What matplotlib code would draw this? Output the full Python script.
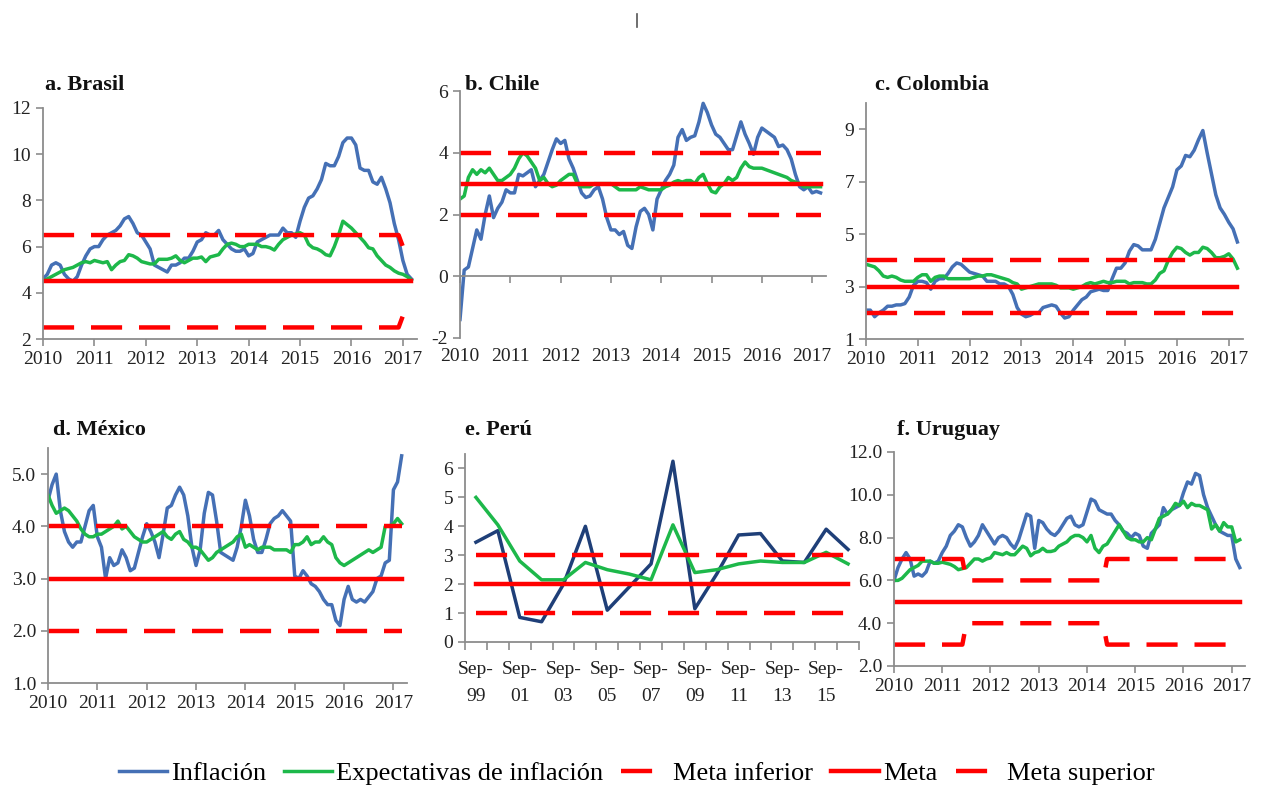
import matplotlib.pyplot as plt
import numpy as np
from matplotlib.lines import Line2D

plt.rcParams['font.family'] = ['Liberation Serif', 'DejaVu Serif']
plt.rcParams['axes.unicode_minus'] = False

# monthly data, Jan 2010 - Mar 2017
years = ['2010', '2011', '2012', '2013', '2014', '2015', '2016', '2017']

bra_inf = [4.6, 4.8, 5.2, 5.3, 5.2, 4.8, 4.6, 4.5, 4.7, 5.2, 5.6, 5.9,
           6.0, 6.0, 6.3, 6.5, 6.6, 6.7, 6.9, 7.2, 7.3, 7.0, 6.6, 6.5,
           6.2, 5.9, 5.2, 5.1, 5.0, 4.9, 5.2, 5.2, 5.3, 5.5, 5.5, 5.8,
           6.2, 6.3, 6.6, 6.5, 6.5, 6.7, 6.3, 6.1, 5.9, 5.8, 5.8, 5.9,
           5.6, 5.7, 6.2, 6.3, 6.4, 6.5, 6.5, 6.5, 6.8, 6.6, 6.6, 6.4,
           7.1, 7.7, 8.1, 8.2, 8.5, 8.9, 9.6, 9.5, 9.5, 9.9, 10.5, 10.7,
           10.7, 10.4, 9.4, 9.3, 9.3, 8.8, 8.7, 9.0, 8.5, 7.9, 7.0, 6.3,
           5.4, 4.8, 4.6]
bra_exp = [4.5, 4.6, 4.7, 4.8, 4.9, 5.0, 5.05, 5.1, 5.2, 5.3, 5.35, 5.3,
           5.4, 5.35, 5.3, 5.35, 5.0, 5.2, 5.35, 5.4, 5.65, 5.6, 5.5, 5.35,
           5.3, 5.25, 5.25, 5.45, 5.45, 5.45, 5.5, 5.6, 5.4, 5.3, 5.4, 5.5,
           5.5, 5.55, 5.35, 5.55, 5.6, 5.65, 5.9, 6.1, 6.15, 6.1, 6.0, 6.0,
           6.1, 6.1, 6.1, 6.0, 6.0, 5.95, 5.85, 6.1, 6.3, 6.4, 6.5, 6.55,
           6.6, 6.5, 6.1, 5.95, 5.9, 5.8, 5.65, 5.6, 6.0, 6.5, 7.1, 6.95,
           6.8, 6.6, 6.4, 6.2, 5.95, 5.9, 5.6, 5.4, 5.2, 5.1, 4.95, 4.85,
           4.8, 4.7, 4.55]
bra_low = [2.5] * 84 + [3.0] * 3
bra_meta = [4.5] * 87
bra_up = [6.5] * 84 + [6.0] * 3

chi_inf = [-1.4, 0.2, 0.3, 0.9, 1.5, 1.2, 2.0, 2.6, 1.9, 2.2, 2.4, 2.8,
           2.7, 2.7, 3.3, 3.25, 3.35, 3.45, 2.9, 3.1, 3.3, 3.7, 4.1, 4.45,
           4.3, 4.4, 3.8, 3.5, 3.1, 2.7, 2.55, 2.6, 2.8, 2.9, 2.5, 1.9,
           1.5, 1.5, 1.35, 1.45, 1.0, 0.9, 1.6, 2.1, 2.2, 2.0, 1.5, 2.5,
           2.8, 3.1, 3.3, 3.6, 4.5, 4.75, 4.4, 4.5, 4.55, 5.0, 5.6, 5.3,
           4.9, 4.6, 4.5, 4.3, 4.1, 4.1, 4.55, 5.0, 4.6, 4.3, 3.95, 4.5,
           4.8, 4.7, 4.6, 4.5, 4.2, 4.25, 4.1, 3.8, 3.3, 2.9, 2.8, 2.9,
           2.7, 2.75, 2.7]
chi_exp = [2.5, 2.6, 3.2, 3.45, 3.3, 3.45, 3.35, 3.5, 3.3, 3.1, 3.1, 3.2,
           3.3, 3.5, 3.8, 4.0, 3.9, 3.7, 3.5, 3.1, 3.2, 3.0, 2.9, 2.95,
           3.1, 3.2, 3.3, 3.3, 3.0, 2.9, 2.9, 2.9, 3.0, 3.0, 3.0, 3.0,
           3.0, 2.9, 2.8, 2.8, 2.8, 2.8, 2.8, 2.9, 2.85, 2.8, 2.8, 2.8,
           2.8, 2.9, 2.95, 3.05, 3.1, 3.05, 3.1, 3.1, 3.0, 3.2, 3.3, 3.0,
           2.75, 2.7, 2.9, 3.0, 3.2, 3.1, 3.2, 3.5, 3.7, 3.55, 3.5, 3.5,
           3.5, 3.45, 3.4, 3.35, 3.3, 3.25, 3.2, 3.1, 3.05, 3.0, 2.9, 2.9,
           2.9, 2.9, 2.9]
chi_low = [2.0] * 87
chi_meta = [3.0] * 87
chi_up = [4.0] * 87

col_inf = [2.1, 2.1, 1.85, 2.0, 2.1, 2.25, 2.25, 2.3, 2.3, 2.35, 2.6, 3.05,
           3.2, 3.2, 3.15, 2.9, 3.2, 3.3, 3.3, 3.5, 3.75, 3.9, 3.85, 3.7,
           3.55, 3.5, 3.45, 3.4, 3.2, 3.2, 3.2, 3.1, 3.1, 3.0, 2.7, 2.2,
           1.95, 1.85, 1.9, 2.0, 2.0, 2.2, 2.25, 2.3, 2.25, 2.0, 1.8, 1.85,
           2.1, 2.3, 2.5, 2.6, 2.8, 2.85, 2.9, 2.85, 2.85, 3.3, 3.7, 3.7,
           3.9, 4.35, 4.6, 4.55, 4.4, 4.4, 4.4, 4.8, 5.4, 6.0, 6.4, 6.8,
           7.45, 7.6, 8.0, 7.95, 8.2, 8.6, 8.95, 8.1, 7.3, 6.5, 6.0, 5.75,
           5.45, 5.2, 4.7]
col_exp = [3.85, 3.8, 3.75, 3.6, 3.4, 3.35, 3.4, 3.35, 3.25, 3.2, 3.2, 3.2,
           3.35, 3.45, 3.45, 3.2, 3.35, 3.4, 3.4, 3.3, 3.3, 3.3, 3.3, 3.3,
           3.3, 3.35, 3.4, 3.4, 3.45, 3.45, 3.4, 3.35, 3.3, 3.25, 3.15, 3.1,
           2.9, 2.95, 3.0, 3.05, 3.1, 3.1, 3.1, 3.1, 3.05, 2.95, 2.95, 2.95,
           2.9, 2.95, 3.0, 3.1, 3.15, 3.1, 3.15, 3.2, 3.15, 3.15, 3.2, 3.2,
           3.2, 3.1, 3.15, 3.15, 3.15, 3.1, 3.1, 3.25, 3.5, 3.6, 4.0, 4.3,
           4.5, 4.45, 4.3, 4.2, 4.3, 4.3, 4.5, 4.45, 4.3, 4.1, 4.1, 4.15,
           4.25, 4.05, 3.7]
col_low = [2.0] * 87
col_meta = [3.0] * 87
col_up = [4.0] * 87

mex_inf = [4.5, 4.8, 5.0, 4.3, 3.9, 3.7, 3.6, 3.7, 3.7, 4.0, 4.3, 4.4,
           3.8, 3.6, 3.0, 3.4, 3.25, 3.3, 3.55, 3.4, 3.15, 3.2, 3.5, 3.8,
           4.05, 3.9, 3.7, 3.4, 3.85, 4.35, 4.4, 4.6, 4.75, 4.6, 4.2, 3.6,
           3.25, 3.55, 4.25, 4.65, 4.6, 4.1, 3.5, 3.45, 3.4, 3.35, 3.6, 4.0,
           4.5, 4.2, 3.75, 3.5, 3.5, 3.75, 4.05, 4.15, 4.2, 4.3, 4.2, 4.1,
           3.05, 3.0, 3.15, 3.05, 2.9, 2.85, 2.75, 2.6, 2.5, 2.5, 2.2, 2.1,
           2.6, 2.85, 2.6, 2.55, 2.6, 2.55, 2.65, 2.75, 3.0, 3.05, 3.3, 3.35,
           4.7, 4.85, 5.35]
mex_exp = [4.6, 4.4, 4.25, 4.3, 4.35, 4.3, 4.2, 4.1, 3.95, 3.85, 3.8, 3.8,
           3.85, 3.85, 3.9, 3.95, 4.0, 4.1, 3.95, 4.0, 3.9, 3.8, 3.75, 3.7,
           3.7, 3.75, 3.8, 3.85, 3.9, 3.8, 3.75, 3.85, 3.9, 3.75, 3.7, 3.6,
           3.6, 3.55, 3.45, 3.35, 3.4, 3.5, 3.55, 3.6, 3.65, 3.7, 3.8, 3.85,
           3.6, 3.65, 3.6, 3.55, 3.6, 3.6, 3.6, 3.55, 3.55, 3.55, 3.55, 3.5,
           3.65, 3.65, 3.7, 3.8, 3.65, 3.7, 3.7, 3.8, 3.7, 3.65, 3.4, 3.3,
           3.25, 3.3, 3.35, 3.4, 3.45, 3.5, 3.55, 3.5, 3.55, 3.6, 4.0, 4.0,
           4.05, 4.15, 4.05]
mex_low = [2.0] * 87
mex_meta = [3.0] * 87
mex_up = [4.0] * 87

uru_inf = [6.0, 6.6, 7.0, 7.3, 7.0, 6.2, 6.3, 6.2, 6.4, 6.9, 6.8, 6.9,
           7.3, 7.6, 8.1, 8.3, 8.6, 8.5, 8.0, 7.6, 7.8, 8.1, 8.6, 8.3,
           8.0, 7.7, 8.0, 8.1, 8.0, 7.7, 7.5, 7.9, 8.5, 9.1, 9.0, 7.5,
           8.8, 8.7, 8.4, 8.2, 8.1, 8.3, 8.6, 8.9, 9.0, 8.6, 8.5, 8.6,
           9.2, 9.8, 9.7, 9.3, 9.2, 9.1, 9.1, 8.8, 8.6, 8.3, 8.2, 8.0,
           8.2, 8.1, 7.6, 7.5, 8.2, 8.4, 8.6, 9.4, 9.1, 9.3, 9.4, 9.5,
           10.1, 10.6, 10.5, 11.0, 10.9, 10.0, 9.4, 9.0, 8.6, 8.3, 8.2, 8.1,
           8.1, 7.0, 6.6]
uru_exp = [6.0, 6.0, 6.1, 6.3, 6.5, 6.6, 6.7, 6.9, 6.9, 6.9, 6.8, 6.8,
           6.85, 6.8, 6.75, 6.65, 6.5, 6.55, 6.6, 6.8, 7.0, 7.0, 6.9, 7.0,
           7.05, 7.3, 7.25, 7.2, 7.3, 7.2, 7.2, 7.4, 7.6, 7.5, 7.15, 7.3,
           7.35, 7.5, 7.35, 7.35, 7.4, 7.6, 7.7, 7.8, 8.0, 8.1, 8.1, 8.0,
           7.8, 8.1, 7.5, 7.3, 7.6, 7.7, 8.0, 8.3, 8.6, 8.3, 8.0, 7.9,
           7.9, 7.8, 7.8, 8.0, 7.9, 8.4, 8.9, 9.0, 9.1, 9.3, 9.6, 9.5,
           9.7, 9.4, 9.6, 9.5, 9.5, 9.4, 9.3, 8.4, 8.6, 8.3, 8.7, 8.5,
           8.5, 7.8, 7.9]
uru_low = [3.0] * 18 + [4.0] * 35 + [3.0] * 34
uru_meta = [5.0] * 87
uru_up = [7.0] * 18 + [6.0] * 35 + [7.0] * 34

# Perú, yearly (September)
peru_cats = ['Sep-99', 'Sep-00', 'Sep-01', 'Sep-02', 'Sep-03', 'Sep-04', 'Sep-05',
             'Sep-06', 'Sep-07', 'Sep-08', 'Sep-09', 'Sep-10', 'Sep-11', 'Sep-12',
             'Sep-13', 'Sep-14', 'Sep-15', 'Sep-16']
peru_inf = [3.45, 3.85, 0.85, 0.7, 2.0, 4.0, 1.1, 1.9, 2.7, 6.25, 1.15, 2.35,
            3.7, 3.75, 2.8, 2.75, 3.9, 3.2]
peru_exp = [5.0, 4.05, 2.8, 2.15, 2.15, 2.75, 2.5, 2.35, 2.15, 4.05, 2.4, 2.5,
            2.7, 2.8, 2.75, 2.75, 3.1, 2.7]
peru_low = [1.0] * 18
peru_meta = [2.0] * 18
peru_up = [3.0] * 18

BLUE = '#4570b5'
NAVY = '#1f3f78'
GREEN = '#1db84a'
RED = '#ff0000'
GRAY = '#8c8c8c'
TXT = '#222222'
TICK_FS = 14
TITLE_FS = 16

W, H = 1264, 790
fig = plt.figure(figsize=(W / 100, H / 100), dpi=100)


def px_axes(l, t, r, b):
    return fig.add_axes([l / W, 1 - b / H, (r - l) / W, (b - t) / H])


def style(ax):
    for s in ['top', 'right']:
        ax.spines[s].set_visible(False)
    for s in ['left', 'bottom']:
        ax.spines[s].set_color(GRAY)
        ax.spines[s].set_linewidth(1.3)
    ax.tick_params(colors=GRAY, labelcolor=TXT, labelsize=TICK_FS, length=5, width=1.2)
    ax.patch.set_alpha(0)


def draw(ax, x, inf, exp, low, meta, up, inf_color=BLUE):
    ax.plot(x, inf, color=inf_color, lw=2.5, label='Inflación')
    ax.plot(x, exp, color=GREEN, lw=2.5, label='Expectativas de inflación')
    ax.plot(x, low, color=RED, lw=3.2, dashes=(7, 3.8), label='Meta inferior')
    ax.plot(x, meta, color=RED, lw=3.2, label='Meta')
    ax.plot(x, up, color=RED, lw=3.2, dashes=(7, 3.8), label='Meta superior')


def monthly(ax, title, tx, ty, inf, exp, low, meta, up, ylim, yticks, fmt):
    x = np.arange(len(inf))
    draw(ax, x, inf, exp, low, meta, up)
    style(ax)
    ax.set_xlim(0, 87.3)
    ax.set_xticks(np.arange(0, 85, 12))
    ax.set_xticklabels(years)
    ax.set_ylim(*ylim)
    ax.set_yticks(yticks)
    ax.set_yticklabels([fmt.format(v) for v in yticks])
    fig.text(tx / W, 1 - ty / H, title, fontsize=TITLE_FS, fontweight='bold', va='center', color='#111111')


axa = px_axes(43, 108, 417, 339)
monthly(axa, 'a. Brasil', 45, 85, bra_inf, bra_exp, bra_low, bra_meta, bra_up,
        (2, 12), [2, 4, 6, 8, 10, 12], '{:g}')

axb = px_axes(460, 91, 826, 338)
monthly(axb, 'b. Chile', 465, 85, chi_inf, chi_exp, chi_low, chi_meta, chi_up,
        (-2, 6), [-2, 0, 2, 4, 6], '{:g}')
axb.spines['bottom'].set_position(('data', 0))
axb.tick_params(axis='x', labelbottom=False)
sec = axb.secondary_xaxis('bottom')
sec.set_xticks(np.arange(0, 85, 12))
sec.set_xticklabels(years)
sec.spines['bottom'].set_visible(False)
sec.tick_params(length=0, labelsize=TICK_FS, labelcolor=TXT, pad=7)

axc = px_axes(866, 103, 1243, 339)
monthly(axc, 'c. Colombia', 875, 85, col_inf, col_exp, col_low, col_meta, col_up,
        (1, 10), [1, 3, 5, 7, 9], '{:g}')

axd = px_axes(48, 448, 407, 683)
monthly(axd, 'd. México', 53, 430, mex_inf, mex_exp, mex_low, mex_meta, mex_up,
        (1, 5.5), [1, 2, 3, 4, 5], '{:.1f}')

axf = px_axes(894, 452, 1245, 666)
monthly(axf, 'f. Uruguay', 897, 430, uru_inf, uru_exp, uru_low, uru_meta, uru_up,
        (2, 12), [2, 4, 6, 8, 10, 12], '{:.1f}')

# Perú panel, categorical axis
axe = px_axes(465, 454, 859, 642)
xp = np.arange(len(peru_cats))
draw(axe, xp, peru_inf, peru_exp, peru_low, peru_meta, peru_up, inf_color=NAVY)
style(axe)
axe.set_xlim(-0.5, len(peru_cats) - 0.5)
axe.set_ylim(0, 6.5)
axe.set_yticks(range(0, 7))
axe.set_xticks(xp[::2])
axe.set_xticklabels([c.replace('-', '-\n') for c in peru_cats[::2]], linespacing=1.7)
axe.tick_params(axis='x', length=0, pad=14)
axe.set_xticks(np.arange(-0.5, len(peru_cats), 1), minor=True)
axe.tick_params(axis='x', which='minor', length=6, width=1.2, color=GRAY)
fig.text(465 / W, 1 - 430 / H, 'e. Perú', fontsize=TITLE_FS, fontweight='bold', va='center', color='#111111')

# small mark at the top of the page
fig.add_artist(Line2D([637 / W, 637 / W], [1 - 14 / H, 1 - 27 / H], color='#555555', lw=1.2))

handles, labels = axa.get_legend_handles_labels()
fig.legend(handles, labels, loc='center', bbox_to_anchor=(637 / W, 1 - 773 / H), ncol=5,
           frameon=False, fontsize=19, handlelength=1.8, handletextpad=0.15,
           columnspacing=0.7)

fig.savefig('out.png', dpi=100)
